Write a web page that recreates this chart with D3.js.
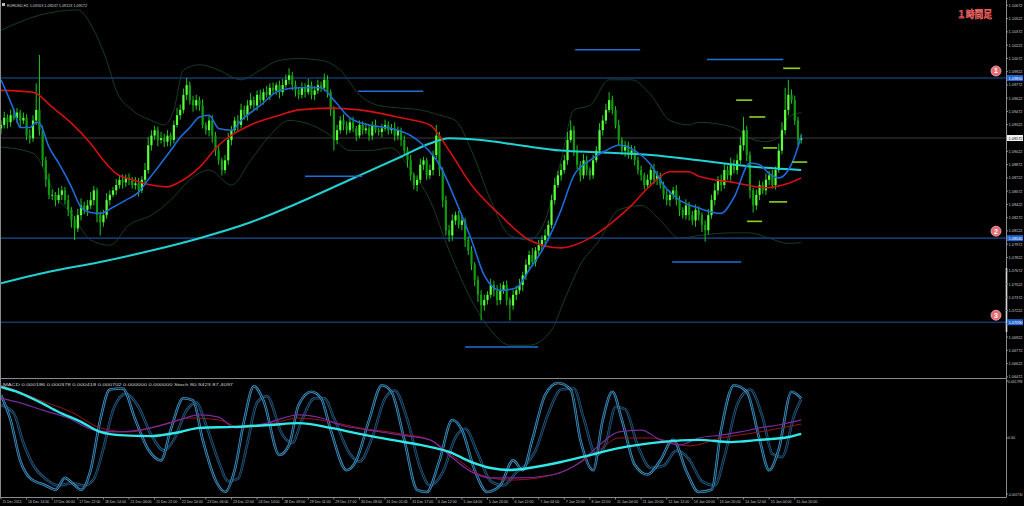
<!DOCTYPE html>
<html><head><meta charset="utf-8">
<script src="https://cdn.jsdelivr.net/npm/d3@7"></script>
<style>html,body{margin:0;padding:0;background:#000;overflow:hidden}</style>
</head><body><svg id="c" width="1024" height="506"></svg>
<script>
// ---- DATA (prices in pips: price x 10000, one candle per 2 hours) ----
const closes = [10932,10940,10935,10943,10940,10946,10937,10940,10920,10917,
10937,10949,10926,10892,10870,10853,10853,10847,10853,10858,
10847,10836,10824,10815,10830,10841,10836,10841,10847,10858,
10830,10822,10830,10847,10853,10858,10864,10870,10867,10872,
10870,10864,10866,10858,10870,10881,10909,10920,10926,10915,
10917,10913,10920,10915,10932,10943,10949,10966,10977,10960,
10954,10960,10954,10932,10926,10937,10920,10903,10892,10881,
10892,10915,10926,10937,10932,10949,10943,10954,10960,10954,
10966,10960,10969,10966,10974,10971,10977,10969,10977,10983,
10988,10977,10971,10966,10974,10969,10977,10966,10971,10977,
10974,10983,10969,10949,10915,10926,10937,10932,10926,10935,
10928,10920,10932,10926,10928,10920,10932,10926,10924,10928,
10932,10926,10928,10920,10926,10915,10903,10892,10875,10864,
10870,10887,10892,10875,10881,10898,10920,10881,10847,10813,
10807,10824,10830,10819,10824,10802,10790,10774,10757,10740,
10728,10734,10740,10751,10745,10734,10745,10751,10734,10728,
10740,10745,10751,10762,10774,10785,10777,10790,10796,10802,
10807,10819,10847,10864,10875,10881,10892,10915,10926,10903,
10887,10875,10892,10881,10875,10892,10903,10926,10937,10949,
10960,10949,10932,10915,10903,10909,10898,10903,10892,10881,
10875,10864,10870,10881,10870,10875,10864,10853,10847,10853,
10858,10847,10836,10830,10841,10830,10824,10836,10830,10819,
10813,10830,10847,10858,10870,10864,10881,10875,10887,10881,
10892,10909,10926,10898,10858,10841,10853,10864,10858,10870,
10875,10864,10881,10903,10926,10949,10966,10960,10937,10915,
10917];
const firstOpen = 10928;
const upperWick = [5,7,4,6,8,5,3,6,4,7, 6,30,62,5,4,7,6,3,8,5, 4,6,3,5,7,8,4,6,9,5, 3,4,6,8,5,4,7,5,6,4,
5,3,7,6,4,8,9,6,5,4, 7,5,6,3,5,8,6,7,8,4, 5,6,4,7,3,5,6,4,5,3, 6,8,5,4,6,7,5,6,8,4,
5,6,4,7,5,6,3,5,7,6, 8,4,5,3,6,5,7,4,5,6, 4,7,5,3,4,6,5,7,4,5, 6,3,5,4,6,5,4,6,3,5,
6,4,5,7,4,3,5,4,6,3, 5,7,4,3,6,5,12,4,3,5, 6,7,4,5,6,3,4,5,3,4, 5,6,4,7,5,6,8,4,5,3,
6,5,7,4,6,5,8,4,6,5, 7,5,6,8,5,7,6,9,11,5, 6,4,7,5,3,6,5,8,6,7, 9,5,4,6,3,5,4,6,5,4,
5,3,6,4,7,5,3,4,6,5, 4,6,5,3,7,4,5,6,4,3, 5,7,6,8,4,6,7,5,8,6, 7,9,15,5,4,3,6,5,4,7,
5,6,4,8,9,25,17,6,5,4, 5];
const lowerWick = [6,4,7,5,3,6,8,4,5,6, 4,5,6,7,8,5,6,7,4,6, 5,7,8,13,4,6,5,7,4,6, 8,15,5,4,6,3,5,4,7,5,
6,4,5,7,3,5,4,6,5,7, 4,6,5,7,4,3,5,4,6,5, 7,5,6,4,5,7,8,6,5,6, 4,5,6,3,7,4,5,6,4,5,
6,4,5,3,6,4,5,7,4,3, 5,6,7,5,4,6,3,5,6,4, 5,4,6,7,12,5,4,6,5,3, 4,6,3,5,4,6,5,3,4,6,
3,5,4,6,5,7,4,8,6,5, 7,4,6,5,4,6,5,7,8,6, 7,6,5,4,6,8,5,6,7,8, 17,6,5,4,7,6,5,4,6,17,
5,6,4,7,5,6,4,5,6,7, 5,6,4,5,3,6,4,5,3,6, 5,7,4,6,5,4,3,5,6,4, 3,5,4,6,5,7,4,5,6,5,
6,5,4,7,5,6,4,5,6,7, 5,6,7,4,5,6,5,7,6,8, 13,5,4,6,5,7,4,5,6,4, 5,4,6,7,9,8,5,6,4,5,
6,4,5,3,4,5,6,4,5,6, 4];

// indicator lines: [bar, value]
const maFast = [[0,10983],[4,10949],[6,10929],[9,10929],[11,10935],[12,10934],[15,10907],[18,10889],[22,10862],[25,10839],[28,10833],[31,10832],[35,10839],[39,10847],[43,10856],[46,10870],[49,10884],[53,10903],[56,10918],[59,10929],[62,10941],[65,10943],[68,10928],[72,10926],[75,10937],[81,10954],[87,10971],[93,10974],[100,10974],[104,10960],[109,10940],[115,10932],[122,10928],[128,10920],[132,10909],[137,10887],[142,10847],[147,10802],[151,10762],[156,10745],[161,10748],[165,10768],[170,10796],[175,10836],[179,10875],[184,10892],[189,10903],[193,10909],[198,10903],[203,10887],[207,10864],[212,10847],[218,10838],[225,10832],[229,10850],[234,10889],[237,10887],[240,10877],[243,10872],[246,10881],[249,10907],[250,10920]];
const maMid = [[0,10971],[10,10969],[16,10952],[22,10934],[28,10911],[32,10892],[36,10877],[41,10870],[47,10864],[52,10862],[55,10866],[62,10884],[68,10909],[78,10932],[87,10943],[93,10949],[103,10951],[112,10949],[125,10940],[134,10932],[140,10903],[147,10864],[156,10830],[165,10802],[175,10793],[179,10796],[184,10804],[190,10819],[197,10841],[203,10864],[209,10879],[215,10879],[218,10874],[229,10867],[239,10861],[246,10866],[250,10872]];
const maSlow = [[0,10753],[15,10766],[31,10777],[47,10790],[62,10804],[78,10822],[93,10844],[109,10870],[125,10896],[134,10911],[140,10917],[150,10915],[162,10909],[175,10903],[187,10901],[203,10898],[218,10892],[234,10885],[250,10881]];
const bandUpper = [[0,11039],[12,11056],[24,11062],[29,11039],[33,11005],[36,10971],[41,10949],[47,10937],[51,10932],[54,10949],[57,10994],[62,11000],[68,10994],[75,10983],[81,10994],[87,11005],[93,11007],[100,11005],[106,10994],[112,10966],[118,10954],[125,10951],[131,10949],[137,10943],[142,10937],[147,10903],[153,10847],[159,10807],[165,10802],[170,10824],[175,10892],[179,10949],[184,10954],[190,10983],[197,10983],[203,10966],[209,10937],[215,10932],[218,10935],[229,10929],[234,10917],[239,10913],[243,10918],[246,10941],[250,10946]];
const bandLower = [[0,10907],[10,10900],[18,10847],[22,10832],[28,10802],[34,10796],[40,10819],[47,10830],[53,10847],[59,10870],[65,10881],[72,10864],[78,10892],[84,10920],[90,10937],[97,10932],[103,10920],[109,10903],[115,10903],[122,10906],[128,10881],[134,10847],[140,10790],[147,10734],[153,10700],[159,10683],[165,10683],[172,10700],[176,10734],[181,10774],[187,10802],[193,10836],[200,10841],[206,10824],[212,10804],[218,10807],[228,10810],[234,10810],[240,10804],[246,10798],[250,10799]];

// horizontal levels and short segments [barStart, barEnd, price]
const levels = [10985, 10804, 10709];
const levelLabels = ["1.09850", "1.08040", "1.07090"];
const levelMarks = ["1", "2", "3"];
const currentPrice = 10917.2;
const currentLabel = "1.09172";
const blueSegs = [[179.4,199.7,11017],[220.6,244.4,11006],[111.6,131.9,10970],[95,112.8,10874],[209.7,231.3,10777],[145,167.8,10681]];
const greenSegs = [[244.4,249.7,10996],[229.7,234.7,10960],[233.8,238.8,10941],[238.1,242.5,10906],[247.2,251.9,10890],[240,245.6,10845],[233.1,237.8,10823]];

// oscillator panel (MACD values x 1e-5, stochastic 0-100)
const macdMain = [[0,161],[6,142],[12,114],[18,82],[25,51],[31,19],[37,9],[47,6],[56,19],[62,32],[73,35],[84,41],[93,47],[103,32],[112,13],[122,-6],[131,-22],[140,-44],[147,-76],[153,-95],[159,-101],[165,-95],[175,-76],[184,-54],[193,-32],[206,-13],[218,-6],[228,-13],[237,-6],[246,3],[250,13]];
const macdSignal = [[0,126],[6,111],[13,88],[21,63],[29,25],[37,19],[47,32],[54,51],[62,73],[68,66],[73,32],[83,47],[93,73],[100,63],[106,41],[115,25],[125,9],[134,-6],[140,-54],[147,-107],[153,-126],[162,-126],[172,-117],[181,-76],[187,-22],[193,19],[200,25],[206,-6],[212,-22],[218,0],[225,9],[231,19],[237,32],[243,41],[250,57]];
const macdOsma = [[0,167],[6,145],[12,120],[22,82],[31,32],[40,19],[50,41],[59,63],[68,57],[75,32],[84,44],[93,63],[103,51],[112,32],[125,13],[134,-6],[142,-63],[150,-117],[159,-133],[168,-126],[178,-95],[187,-38],[193,0],[203,0],[215,-25],[225,0],[237,19],[250,44]];
const stochK = [[0,89],[3,66],[6,29],[9,13],[14,6],[17,2],[20,13],[22,9],[25,2],[28,20],[31,66],[34,94],[38,95],[42,66],[46,39],[50,29],[53,57],[57,86],[60,84],[63,48],[67,11],[70,0],[73,20],[76,66],[79,97],[82,84],[87,34],[90,43],[93,80],[97,92],[100,86],[103,57],[108,20],[111,29],[115,66],[119,98],[122,92],[126,48],[130,2],[133,0],[137,29],[141,66],[144,57],[148,20],[152,0],[156,6],[160,29],[163,20],[166,48],[170,89],[174,100],[178,94],[181,48],[185,20],[188,66],[191,92],[194,66],[198,25],[202,16],[206,29],[210,48],[214,20],[218,0],[222,2],[225,57],[229,98],[233,92],[237,48],[240,20],[243,39],[247,92],[250,86]];
const stochD = [[0,80],[4,72],[7,45],[10,25],[14,12],[18,6],[22,8],[26,6],[29,12],[32,40],[35,75],[39,90],[43,78],[47,52],[51,38],[54,48],[58,75],[61,82],[64,62],[68,28],[71,10],[74,12],[77,45],[80,82],[83,88],[88,52],[91,45],[94,66],[98,86],[101,86],[104,68],[109,35],[112,28],[116,50],[120,86],[123,93],[127,66],[131,22],[134,6],[138,18],[142,50],[145,58],[149,35],[153,10],[157,6],[161,18],[164,25],[167,38],[171,72],[175,94],[179,95],[182,68],[186,34],[189,45],[192,78],[195,76],[199,42],[203,22],[207,24],[211,38],[215,30],[219,10],[223,6],[226,32],[230,80],[234,94],[238,68],[241,35],[244,32],[248,72],[250,85]];

// axis labels
const priceTicks = ["1.10672","1.10522","1.10372","1.10222","1.10072","1.09922","1.09772","1.09622","1.09472","1.09322","1.09172","1.09022","1.08872","1.08722","1.08572","1.08422","1.08272","1.08122","1.07972","1.07822","1.07672","1.07522","1.07372","1.07222","1.07072","1.06922","1.06772","1.06622","1.06472"];
const oscTicks = [[180,"0.001798"],[0,"0.00"],[-177,"-0.001730"]];
const timeLabels = ["15 Dec 2015","16 Dec 14:00","17 Dec 06:00","17 Dec 22:00","18 Dec 14:00","21 Dec 06:00","21 Dec 22:00","22 Dec 14:00","23 Dec 06:00","23 Dec 22:00","24 Dec 14:00","28 Dec 09:00","29 Dec 01:00","29 Dec 17:00","30 Dec 09:00","31 Dec 01:00","31 Dec 17:00","4 Jan 12:00","5 Jan 04:00","5 Jan 20:00","6 Jan 12:00","7 Jan 04:00","7 Jan 20:00","8 Jan 12:00","11 Jan 04:00","11 Jan 20:00","12 Jan 12:00","13 Jan 04:00","13 Jan 20:00","14 Jan 12:00","15 Jan 04:00","15 Jan 20:00"];
const headerText = "EURUSD,H1  1.09163 1.09247 1.09123 1.09172";
const oscHeader = "MACD 0.000186 0.000378 0.000418 0.000702 0.000000 0.000000  Stoch 80.9423 87.4097";
const title = "１時間足";

// ---- DRAWING ----
const svg = d3.select("#c");
const W = 1024, plotR = 1006, mainTop = 5.3, mainBot = 376.9, sepY = 378.5, oscBot = 497;
const x = d3.scaleLinear().domain([0, 314]).range([1, plotR]);
const y = d3.scaleLinear().domain([10647.2, 11067.2]).range([mainBot, mainTop]);
const yM = d3.scaleLinear().domain([-177, 180]).range([494, 381]);
const yS = d3.scaleLinear().domain([0, 100]).range([492, 383]);
const font = "Liberation Sans, Arial, sans-serif";
const FS = 4.2;
const txt = (sel, s, fs, len) => { sel.text(s).attr("font-size", fs).attr("font-family", font); if (len) sel.attr("textLength", len).attr("lengthAdjust", "spacingAndGlyphs"); return sel; };

svg.append("rect").attr("width", W).attr("height", 506).attr("fill", "#000");
svg.append("clipPath").attr("id","cm").append("rect").attr("x",1).attr("y",0).attr("width",plotR-1).attr("height",sepY);
svg.append("clipPath").attr("id","co").append("rect").attr("x",1).attr("y",sepY+1).attr("width",plotR-1).attr("height",oscBot-sepY-1);
const gM = svg.append("g").attr("clip-path","url(#cm)");
const gO = svg.append("g").attr("clip-path","url(#co)");

const line = (sc) => d3.line().x(d => x(d[0])).y(d => sc(d[1])).curve(d3.curveMonotoneX);

// bollinger bands
[bandUpper, bandLower].forEach(b => gM.append("path").datum(b).attr("d", line(y)).attr("fill","none").attr("stroke","#173c26").attr("stroke-width",1));

// levels
levels.forEach(l => gM.append("line").attr("x1",1).attr("x2",plotR).attr("y1",y(l)).attr("y2",y(l)).attr("stroke","#14386a").attr("stroke-width",1.6));
gM.append("line").attr("x1",1).attr("x2",plotR).attr("y1",y(currentPrice)).attr("y2",y(currentPrice)).attr("stroke","#3c3c3c").attr("stroke-width",1);

// candles
const candles = closes.map((c,i) => {
  const o = i === 0 ? firstOpen : closes[i-1];
  return {i, o, c, h: Math.max(o,c) + upperWick[i], l: Math.min(o,c) - lowerWick[i]};
});
gM.selectAll("line.w").data(candles).join("line").attr("class","w")
  .attr("x1", d => x(d.i)).attr("x2", d => x(d.i))
  .attr("y1", d => y(d.h)).attr("y2", d => y(d.l))
  .attr("stroke", "#1fc81f").attr("stroke-width", 1);
gM.selectAll("rect.b").data(candles).join("rect").attr("class","b")
  .attr("x", d => x(d.i) - 1.1).attr("width", 2.2)
  .attr("y", d => y(Math.max(d.o,d.c))).attr("height", d => Math.max(0.8, Math.abs(y(d.o) - y(d.c))))
  .attr("fill", d => d.c >= d.o ? "#5cff3c" : "#0f9a0f");

// moving averages
gM.append("path").datum(maSlow).attr("d", line(y)).attr("fill","none").attr("stroke","#22d2d2").attr("stroke-width",2);
gM.append("path").datum(maMid).attr("d", line(y)).attr("fill","none").attr("stroke","#d41010").attr("stroke-width",1.6);
gM.append("path").datum(maFast).attr("d", line(y)).attr("fill","none").attr("stroke","#1e6ad8").attr("stroke-width",1.6);

// short segments
blueSegs.forEach(s => gM.append("line").attr("x1",x(s[0])).attr("x2",x(s[1])).attr("y1",y(s[2])).attr("y2",y(s[2])).attr("stroke","#1f6fd8").attr("stroke-width",1.6));
greenSegs.forEach(s => gM.append("line").attr("x1",x(s[0])).attr("x2",x(s[1])).attr("y1",y(s[2])).attr("y2",y(s[2])).attr("stroke","#8fd41f").attr("stroke-width",1.6));

// oscillator panel
[[stochD,"#245a80","#020a10"],[stochK,"#3f93c4","#061824"]].forEach(([d,c1,c2]) => {
  gO.append("path").datum(d).attr("d", line(yS)).attr("fill","none").attr("stroke",c1).attr("stroke-width",2.6);
  gO.append("path").datum(d).attr("d", line(yS)).attr("fill","none").attr("stroke",c2).attr("stroke-width",0.9);
});
gO.append("path").datum(macdOsma).attr("d", line(yM)).attr("fill","none").attr("stroke","#9a1420").attr("stroke-width",1);
gO.append("path").datum(macdSignal).attr("d", line(yM)).attr("fill","none").attr("stroke","#7a2a9c").attr("stroke-width",1.2);
gO.append("path").datum(macdMain).attr("d", line(yM)).attr("fill","none").attr("stroke","#30e8e8").attr("stroke-width",2.4);

// frame
const grey = "#8a8a8a";
svg.append("line").attr("x1",0.5).attr("x2",0.5).attr("y1",0).attr("y2",oscBot).attr("stroke",grey);
svg.append("line").attr("x1",plotR+0.5).attr("x2",plotR+0.5).attr("y1",0).attr("y2",oscBot).attr("stroke",grey);
svg.append("line").attr("x1",0).attr("x2",plotR+0.5).attr("y1",sepY).attr("y2",sepY).attr("stroke",grey);
svg.append("line").attr("x1",0).attr("x2",plotR+0.5).attr("y1",oscBot+0.5).attr("y2",oscBot+0.5).attr("stroke",grey);
svg.append("line").attr("x1",plotR+0.5).attr("x2",plotR+0.5).attr("y1",268).attr("y2",332).attr("stroke","#d8d8d8").attr("stroke-width",1.6);

// price axis
const tickVals = priceTicks.map(t => +t * 10000);
const lx = plotR + 2.5;
tickVals.forEach((v,i) => {
  svg.append("line").attr("x1",plotR).attr("x2",plotR+2).attr("y1",y(v)).attr("y2",y(v)).attr("stroke",grey);
  txt(svg.append("text").attr("x",lx).attr("y",y(v)+1.5).attr("fill","#c8c8c8"), priceTicks[i], FS, 14);
});
oscTicks.forEach(t => {
  svg.append("line").attr("x1",plotR).attr("x2",plotR+2).attr("y1",yM(t[0])).attr("y2",yM(t[0])).attr("stroke",grey);
  const fs = t[1].length > 8 ? 3.3 : (t[1].length > 5 ? 3.5 : FS);
  txt(svg.append("text").attr("x",plotR+2).attr("y",yM(t[0])+1.5).attr("fill","#c8c8c8"), t[1], fs, t[1].length > 5 ? 14.5 : 7);
});
levels.forEach((l,i) => {
  svg.append("rect").attr("x",plotR+1).attr("y",y(l)-3).attr("width",W-plotR-2).attr("height",6).attr("fill","#1f64d0");
  txt(svg.append("text").attr("x",lx).attr("y",y(l)+1.5).attr("fill","#fff"), levelLabels[i], FS, 14);
  svg.append("circle").attr("cx",996).attr("cy",y(l)-7).attr("r",5).attr("fill","#e86a72").attr("stroke","#f3b0b4").attr("stroke-width",0.8);
  txt(svg.append("text").attr("x",996).attr("y",y(l)-4.6).attr("text-anchor","middle").attr("fill","#fff").attr("font-weight","bold"), levelMarks[i], 7);
});
svg.append("rect").attr("x",plotR+1).attr("y",y(currentPrice)-3).attr("width",W-plotR-2).attr("height",6).attr("fill","#f4f4f4");
txt(svg.append("text").attr("x",lx).attr("y",y(currentPrice)+1.5).attr("fill","#000"), currentLabel, FS, 14);

// time axis
timeLabels.forEach((t,k) => {
  const xx = x(k*8);
  svg.append("line").attr("x1",xx).attr("x2",xx).attr("y1",oscBot).attr("y2",oscBot+2.5).attr("stroke",grey);
  txt(svg.append("text").attr("x",xx+1.5).attr("y",oscBot+6.3).attr("fill","#c8c8c8"), t, 3.9, t.length >= 12 ? 21 : 19);
});

// headers
svg.append("rect").attr("x",2).attr("y",3).attr("width",3).attr("height",3).attr("fill","#bbb");
txt(svg.append("text").attr("x",7).attr("y",7).attr("fill","#d0d0d0"), headerText, FS, 80);
txt(svg.append("text").attr("x",3).attr("y",385.5).attr("fill","#d0d0d0"), oscHeader, FS, 230);
svg.append("text").attr("x",957).attr("y",18).text(title).attr("fill","#ff2a2a").attr("font-size",10).attr("font-weight","bold")
  .attr("font-family","Noto Sans CJK JP, sans-serif").attr("textLength",35).attr("lengthAdjust","spacingAndGlyphs").attr("stroke","#ffd0d0").attr("stroke-width",0.25);
</script></body></html>
